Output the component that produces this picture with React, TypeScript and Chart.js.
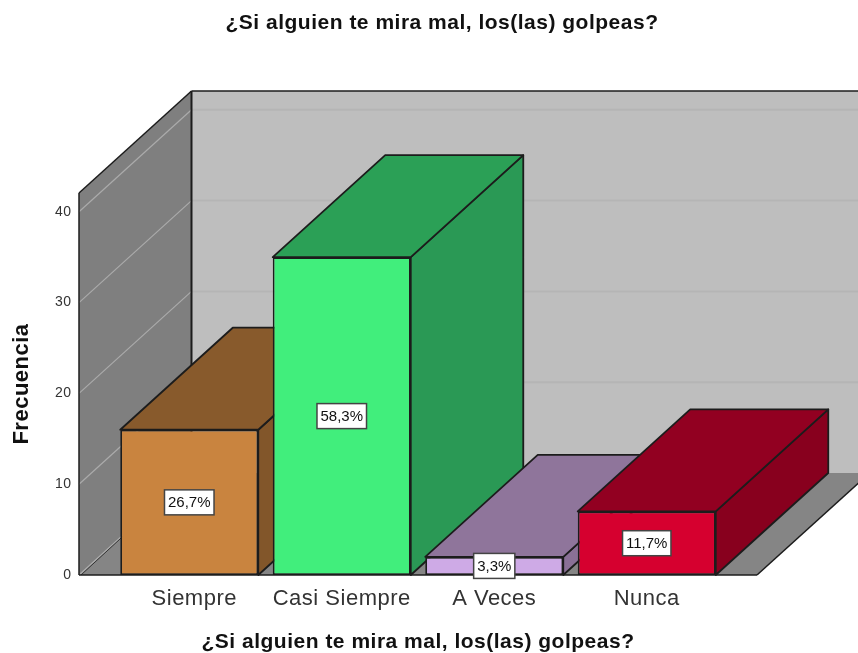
import React, { useEffect, useRef } from "react";
import { Chart, registerables } from "chart.js";

Chart.register(...registerables);

const chartTitle = "¿Si alguien te mira mal, los(las) golpeas?";
const yTitle = "Frecuencia";
const categories = ["Siempre", "Casi Siempre", "A Veces", "Nunca"];
const counts = [16, 35, 2, 7];
const percentLabels = ["26,7%", "58,3%", "3,3%", "11,7%"];
const frontColors = ["#C9843F", "#41EE7C", "#CEAAE6", "#D6002F"];
const topColors = ["#885A2C", "#2BA056", "#8F759B", "#920021"];
const sideColors = ["#82562A", "#2A9955", "#8A7096", "#88001E"];
const labelNudge = [0.033, 0, 0, 0];

const FONT = "'Liberation Sans', Arial, sans-serif";
const INK = "#1c1c1c";
const DX = 112.5;
const DY = 102;

const poly = (ctx: CanvasRenderingContext2D, pts: number[][], fill: string | null, stroke: string | null, lw = 1.8) => {
  ctx.beginPath();
  pts.forEach((p, i) => (i ? ctx.lineTo(p[0], p[1]) : ctx.moveTo(p[0], p[1])));
  ctx.closePath();
  if (fill) {
    ctx.fillStyle = fill;
    ctx.fill();
  }
  if (stroke) {
    ctx.strokeStyle = stroke;
    ctx.lineWidth = lw;
    ctx.lineJoin = "round";
    ctx.stroke();
  }
};

const seg = (ctx: CanvasRenderingContext2D, x1: number, y1: number, x2: number, y2: number, color: string, lw: number) => {
  ctx.beginPath();
  ctx.moveTo(x1, y1);
  ctx.lineTo(x2, y2);
  ctx.strokeStyle = color;
  ctx.lineWidth = lw;
  ctx.stroke();
};

const scene3d = {
  id: "scene3d",
  beforeDraw(chart: any) {
    if (chart.titleBlock) {
      chart.titleBlock.left = 26;
      chart.titleBlock.right = chart.width;
    }
    // The reference text is slightly stretched: widen titles and axis labels.
    chart.ctx.letterSpacing = "0.5px";
  },
  beforeDatasetsDraw(chart: any) {
    const { ctx, chartArea: a, scales } = chart;
    const { left: l, right: r, top: t, bottom: b } = a;
    const y = scales.y;
    ctx.letterSpacing = "0px";
    ctx.save();
    // back wall, floor, left wall
    poly(ctx, [[l + DX, t - DY], [r + DX, t - DY], [r + DX, b - DY], [l + DX, b - DY]], "#BEBEBE", null);
    poly(ctx, [[l, b], [r, b], [r + DX, b - DY], [l + DX, b - DY]], "#858585", null);
    poly(ctx, [[l, t], [l + DX, t - DY], [l + DX, b - DY], [l, b]], "#7F7F7F", null);
    y.ticks.forEach((tk: any) => {
      const py = y.getPixelForValue(tk.value);
      if (tk.value > 0) seg(ctx, l + DX, py - DY, r + DX, py - DY, "#B5B5B5", 2);
      seg(ctx, l, py, l + DX, py - DY, "#ABABAB", 1.2);
    });
    seg(ctx, l + DX, t - DY, r + DX, t - DY, INK, 1.5);
    seg(ctx, l + DX, t - DY, l + DX, b - DY, INK, 2);
    seg(ctx, l, t, l + DX, t - DY, INK, 1.5);
    seg(ctx, l, t, l, b, INK, 1.5);
    seg(ctx, l + 2, b, l + DX, b - DY, "#333333", 1);
    seg(ctx, l, b, r, b, INK, 1.5);
    seg(ctx, r, b, r + DX, b - DY, INK, 1.5);
    // depth faces, left to right
    chart.getDatasetMeta(0).data.forEach((bar: any, i: number) => {
      const x0 = bar.x - bar.width / 2;
      const x1 = bar.x + bar.width / 2;
      const yt = bar.y;
      const yb = bar.base;
      poly(ctx, [[x1, yt], [x1 + DX, yt - DY], [x1 + DX, yb - DY], [x1, yb]], sideColors[i], INK);
      poly(ctx, [[x0, yt], [x0 + DX, yt - DY], [x1 + DX, yt - DY], [x1, yt]], topColors[i], INK);
    });
    ctx.restore();
  },
  afterDatasetsDraw(chart: any) {
    const { ctx } = chart;
    ctx.save();
    ctx.font = `15px ${FONT}`;
    ctx.textAlign = "center";
    ctx.textBaseline = "middle";
    chart.getDatasetMeta(0).data.forEach((bar: any, i: number) => {
      const cy = (bar.y + bar.base) / 2;
      const w = ctx.measureText(percentLabels[i]).width + 7;
      const h = 25;
      ctx.fillStyle = "#FFFFFF";
      ctx.fillRect(bar.x - w / 2, cy - h / 2, w, h);
      ctx.strokeStyle = "#444444";
      ctx.lineWidth = 1.5;
      ctx.strokeRect(bar.x - w / 2, cy - h / 2, w, h);
      ctx.fillStyle = "#111111";
      ctx.fillText(percentLabels[i], bar.x, cy + 0.5);
    });
    ctx.restore();
  },
};

export default function App() {
  const ref = useRef<HTMLCanvasElement>(null);
  useEffect(() => {
    document.body.style.margin = "0";
    const chart = new Chart(ref.current as HTMLCanvasElement, {
      type: "bar",
      data: {
        datasets: [
          {
            label: yTitle,
            data: counts.map((v, i) => ({ x: i, y: v })) as any,
            backgroundColor: frontColors,
            borderColor: INK,
            borderWidth: 1.8,
            borderSkipped: false,
            categoryPercentage: 1,
            barPercentage: 0.936,
          },
        ],
      },
      options: {
        animation: false,
        responsive: false,
        layout: { padding: { left: 0, right: 101, top: 0, bottom: 0 } },
        plugins: {
          legend: { display: false },
          tooltip: { enabled: false },
          title: {
            display: true,
            text: chartTitle,
            color: "#111111",
            font: { family: FONT, size: 21, weight: "bold", lineHeight: 1.2 },
            padding: { top: 11, bottom: 156.8 },
          },
        },
        scales: {
          x: {
            type: "linear",
            offset: false,
            min: -0.723,
            max: 3.723,
            grid: { display: false, drawTicks: false, offset: false },
            border: { display: false },
            afterBuildTicks: (s: any) => {
              s.ticks = categories.map((_, i) => ({ value: i + labelNudge[i] }));
            },
            afterFit: (s: any) => {
              s.height = 78;
            },
            ticks: {
              autoSkip: false,
              maxRotation: 0,
              padding: 10.5,
              color: "#333333",
              font: { family: FONT, size: 22 },
              callback: (v: any) => categories[Math.round(v as number)],
            },
            title: {
              display: true,
              text: chartTitle,
              color: "#111111",
              font: { family: FONT, size: 21, weight: "bold" },
              padding: { top: 0, bottom: -2 },
            },
          },
          y: {
            min: 0,
            max: 42.07,
            afterBuildTicks: (s: any) => {
              s.ticks = s.ticks.filter((t: any) => t.value % 10 === 0);
            },
            afterFit: (s: any) => {
              s.width = 79;
            },
            grid: { display: false, drawTicks: false },
            border: { display: false },
            ticks: {
              stepSize: 10,
              padding: 7.5,
              color: "#333333",
              font: { family: FONT, size: 14 },
            },
            title: {
              display: true,
              text: yTitle,
              color: "#111111",
              font: { family: FONT, size: 22, weight: "bold" },
              padding: { top: 8.8, bottom: 0 },
            },
          },
        },
      },
      plugins: [scene3d],
    } as any);
    return () => chart.destroy();
  }, []);
  return <canvas ref={ref} width={858} height={653} style={{ display: "block" }} />;
}
